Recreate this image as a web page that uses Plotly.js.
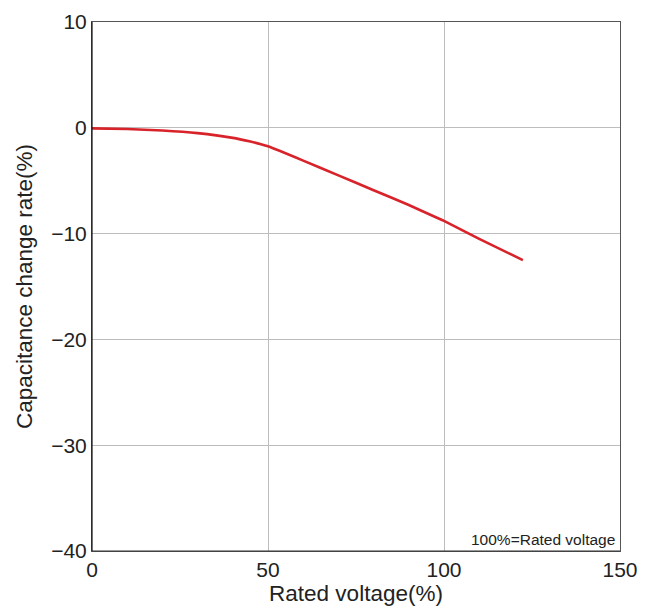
<!DOCTYPE html>
<html>
<head>
<meta charset="utf-8">
<script src="https://cdn.plot.ly/plotly-3.0.1.min.js"></script>
<style>html,body{margin:0;padding:0;background:#fff;}#chart{width:653px;height:610px;}</style>
</head>
<body>
<div id="chart"></div>
<script>
const voltage = [0, 10, 20, 30, 40, 45, 48, 50, 60, 70, 80, 90, 98, 100, 110, 122.4];
const capChange = [-0.05, -0.12, -0.25, -0.5, -0.95, -1.3, -1.55, -1.75, -3.1, -4.5, -5.9, -7.3, -8.5, -8.8, -10.5, -12.5];
const xTicks = [0, 50, 100, 150];
const yTicks = [10, 0, -10, -20, -30, -40];
const noteText = '100%=Rated voltage';

const font = 'Liberation Sans, Arial, Helvetica, sans-serif';
const trace = {
  x: voltage, y: capChange, type: 'scatter', mode: 'lines',
  line: {color: '#d8232a', width: 2.6, shape: 'spline', smoothing: 0.5},
  hoverinfo: 'skip'
};
const layout = {
  width: 653, height: 610,
  margin: {l: 92, r: 33, t: 22, b: 59, pad: 0},
  paper_bgcolor: '#fff', plot_bgcolor: '#fff',
  showlegend: false,
  font: {family: font, color: '#222'},
  xaxis: {
    range: [0, 150], tickvals: xTicks, ticks: '', showgrid: true,
    gridcolor: '#bdbdbd', gridwidth: 1, zeroline: false,
    showline: true, linecolor: '#555', linewidth: 1, mirror: true,
    tickfont: {size: 21, family: font, color: '#222'},
    title: {text: 'Rated voltage(%)', font: {size: 22.5, family: font, color: '#222'}, standoff: 4}
  },
  yaxis: {
    range: [-40, 10], tickvals: yTicks, ticks: '', showgrid: true,
    gridcolor: '#bdbdbd', gridwidth: 1, zeroline: false,
    showline: true, linecolor: '#555', linewidth: 1, mirror: true,
    tickfont: {size: 21, family: font, color: '#222'},
    title: {text: 'Capacitance change rate(%)', font: {size: 22.5, family: font, color: '#222'}, standoff: 12}
  },
  annotations: [{
    xref: 'paper', yref: 'paper', x: 0.995, y: 0.002, xanchor: 'right', yanchor: 'bottom',
    text: noteText, showarrow: false, font: {size: 15.5, family: font, color: '#222'}
  }],
  shapes: [
    {type: 'line', xref: 'paper', yref: 'paper', x0: 0, x1: 0, y0: 0, y1: 1, line: {color: '#111', width: 1.2}},
    {type: 'line', xref: 'paper', yref: 'paper', x0: 0, x1: 1, y0: 0, y1: 0, line: {color: '#333', width: 1.2}}
  ]
};
Plotly.newPlot('chart', [trace], layout, {staticPlot: true, displayModeBar: false});
</script>
</body>
</html>
